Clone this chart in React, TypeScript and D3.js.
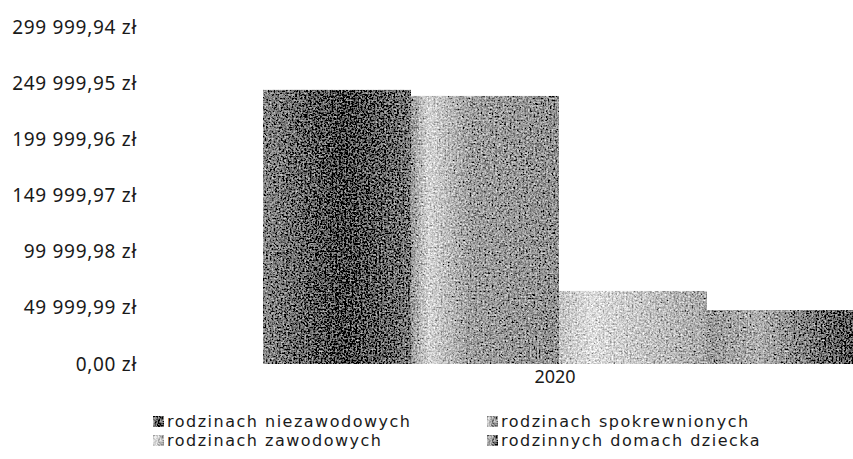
import React, { useRef, useEffect } from 'react';
import * as d3 from 'd3';

// data
const years = ['2020'];
const seriesNames = [
  'rodzinach niezawodowych',
  'rodzinach spokrewnionych',
  'rodzinach zawodowych',
  'rodzinnych domach dziecka',
];
const values2020 = [244000, 238600, 65000, 48000];
const tickValues = [0, 49999.99, 99999.98, 149999.97, 199999.96, 249999.95, 299999.94];
const tickLabels = ['0,00 zł', '49 999,99 zł', '99 999,98 zł', '149 999,97 zł', '199 999,96 zł', '249 999,95 zł', '299 999,94 zł'];

// grey gradients behind the noisy texture, one per series
const gradients = [
  [['0%', '#8a8a8a'], ['55%', '#484848'], ['100%', '#7a7a7a']],
  [['0%', '#9a9a9a'], ['12%', '#d6d6d6'], ['40%', '#a0a0a0'], ['100%', '#929292']],
  [['0%', '#c4c4c4'], ['22%', '#dedede'], ['100%', '#aaaaaa']],
  [['0%', '#9a9a9a'], ['35%', '#b0b0b0'], ['100%', '#555555']],
];

const W = 853;
const H = 459;
const FONT = '"Noto Sans", "Open Sans", sans-serif';

const App = () => {
  const svgRef = useRef<SVGSVGElement>(null);

  useEffect(() => {
    const svg = d3.select(svgRef.current);
    svg.selectAll('*').remove();

    // 1. defs: gradients + noise filter
    const defs = svg.append('defs');
    gradients.forEach((stops, i) => {
      const g = defs.append('linearGradient')
        .attr('id', `grad${i}`)
        .attr('x1', '0%').attr('x2', '100%')
        .attr('y1', '0%').attr('y2', '0%');
      stops.forEach(s => g.append('stop').attr('offset', s[0]).attr('stop-color', s[1]));
    });

    const filter = defs.append('filter')
      .attr('id', 'noise')
      .attr('x', 0).attr('y', 0).attr('width', 1).attr('height', 1);
    filter.append('feTurbulence')
      .attr('type', 'fractalNoise')
      .attr('baseFrequency', 0.55)
      .attr('numOctaves', 2)
      .attr('seed', 3)
      .attr('result', 't');
    filter.append('feColorMatrix')
      .attr('in', 't')
      .attr('type', 'matrix')
      .attr('values', '0.33 0.33 0.33 0 0  0.33 0.33 0.33 0 0  0.33 0.33 0.33 0 0  0 0 0 0 1')
      .attr('result', 'g');
    filter.append('feComposite')
      .attr('in', 'SourceGraphic')
      .attr('in2', 'g')
      .attr('operator', 'arithmetic')
      .attr('k1', 0).attr('k2', 1).attr('k3', 2.2).attr('k4', -1.1)
      .attr('result', 'mix');
    filter.append('feComposite')
      .attr('in', 'mix')
      .attr('in2', 'SourceGraphic')
      .attr('operator', 'in');

    // 2. scales
    const x = d3.scaleBand().domain(years).range([263, 855]).padding(0);
    const xInner = d3.scaleBand().domain(seriesNames).range([0, x.bandwidth()]).padding(0);
    const y = d3.scaleLinear().domain([0, 299999.94]).range([364, 27]);

    // 3. y axis labels (no lines)
    const yAxis = d3.axisLeft(y)
      .tickValues(tickValues)
      .tickFormat((d, i) => tickLabels[i])
      .tickSize(0)
      .tickPadding(0);
    const ya = svg.append('g')
      .attr('transform', 'translate(137,0)')
      .call(yAxis);
    ya.select('.domain').remove();
    ya.selectAll('text')
      .attr('font-family', FONT)
      .attr('font-size', 19)
      .attr('letter-spacing', 0.7)
      .attr('fill', '#1a1a1a');

    // 4. bars
    const rows = years.map(yr => ({ year: yr, values: values2020 }));
    const groups = svg.selectAll('.grp')
      .data(rows)
      .join('g')
      .attr('class', 'grp')
      .attr('transform', d => `translate(${x(d.year)},0)`);
    groups.selectAll('rect')
      .data(d => d.values.map((v, i) => ({ name: seriesNames[i], v, i })))
      .join('rect')
      .attr('x', d => xInner(d.name))
      .attr('y', d => y(d.v))
      .attr('width', xInner.bandwidth())
      .attr('height', d => y(0) - y(d.v))
      .attr('fill', d => `url(#grad${d.i})`)
      .attr('filter', 'url(#noise)');

    // 5. x axis label
    const xAxis = d3.axisBottom(x).tickSize(0).tickPadding(0);
    const xa = svg.append('g')
      .attr('transform', 'translate(-4,370)')
      .call(xAxis);
    xa.select('.domain').remove();
    xa.selectAll('text')
      .attr('font-family', FONT)
      .attr('font-size', 18)
      .attr('fill', '#1a1a1a');

    // 6. legend, two columns
    const legend = svg.append('g');
    const item = legend.selectAll('g')
      .data(seriesNames)
      .join('g')
      .attr('transform', (d, i) => `translate(${i % 2 === 0 ? 153 : 487},${i < 2 ? 416 : 435})`);
    item.append('rect')
      .attr('width', 11).attr('height', 11)
      .attr('fill', (d, i) => `url(#grad${i})`)
      .attr('filter', 'url(#noise)');
    item.append('text')
      .attr('x', 14)
      .attr('y', 11)
      .attr('font-family', '"DejaVu Sans", sans-serif')
      .attr('font-size', 16)
      .attr('letter-spacing', 1.5)
      .attr('fill', '#1a1a1a')
      .text(d => d);
  }, []);

  return (
    <svg ref={svgRef} width={W} height={H}
      style={{ position: 'absolute', left: 0, top: 0, background: '#fff' }} />
  );
};

export default App;
